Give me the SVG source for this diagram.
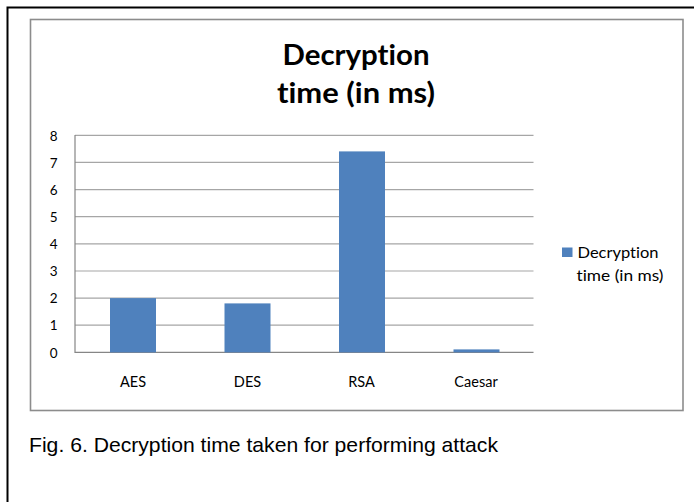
<svg xmlns="http://www.w3.org/2000/svg" width="694" height="502" viewBox="0 0 694 502">
<style>
text{font-variant-ligatures:none;font-feature-settings:"liga" 0,"clig" 0}
.title{font-family:Lato,"Liberation Sans",sans-serif;font-weight:bold;font-size:28px;fill:#000;text-anchor:middle}
.ylab{font-family:Lato,"Liberation Sans",sans-serif;font-size:13.5px;fill:#000;text-anchor:end}
.xlab{font-family:Lato,"Liberation Sans",sans-serif;font-size:14.5px;fill:#000;text-anchor:middle}
.leg{font-family:Lato,"Liberation Sans",sans-serif;font-size:15.5px;fill:#000}
.cap{font-family:"Liberation Sans",Arial,sans-serif;font-size:21px;fill:#000}
.grid{stroke:#a6a6a6;stroke-width:1.2;fill:none}
.bar{fill:#4F81BD}
</style>
<rect x="0" y="0" width="694" height="502" fill="#fff"/>
<path d="M7.5,502 V7.5 H694" fill="none" stroke="#000" stroke-width="2"/>
<g id="chart-frame">
<rect x="30.5" y="19.5" width="652.5" height="391" fill="#fff" stroke="#8c8c8c" stroke-width="1.6"/>
</g>
<g id="title">
<text class="title" x="356" y="65" textLength="147" lengthAdjust="spacingAndGlyphs">Decryption</text>
<text class="title" x="356" y="103" textLength="158" lengthAdjust="spacingAndGlyphs">time (in ms)</text>
</g>
<g id="gridlines">
<path class="grid" d="M75,135.3 H533.5 M75,162.4 H533.5 M75,189.6 H533.5 M75,216.7 H533.5 M75,243.8 H533.5 M75,271 H533.5 M75,298.1 H533.5 M75,325.2 H533.5"/>
<path d="M75,135 V352.4 H533.5" fill="none" stroke="#868686" stroke-width="1.2"/>
</g>
<g id="y-axis-labels">
<text class="ylab" x="57.5" y="140.5">8</text>
<text class="ylab" x="57.5" y="167.6">7</text>
<text class="ylab" x="57.5" y="194.8">6</text>
<text class="ylab" x="57.5" y="221.9">5</text>
<text class="ylab" x="57.5" y="249">4</text>
<text class="ylab" x="57.5" y="276.2">3</text>
<text class="ylab" x="57.5" y="303.3">2</text>
<text class="ylab" x="57.5" y="330.4">1</text>
<text class="ylab" x="57.5" y="357.6">0</text>
</g>
<g id="bar-AES"><rect class="bar" x="110" y="298.1" width="46" height="54.3"/></g>
<g id="bar-DES"><rect class="bar" x="224.5" y="303.4" width="46" height="49"/></g>
<g id="bar-RSA"><rect class="bar" x="339" y="151.4" width="46" height="201"/></g>
<g id="bar-Caesar"><rect class="bar" x="453.5" y="349.4" width="46" height="3"/></g>
<g id="x-axis-labels">
<text class="xlab" x="133" y="386.5">AES</text>
<text class="xlab" x="247.5" y="386.5">DES</text>
<text class="xlab" x="361.5" y="386.5">RSA</text>
<text class="xlab" x="476" y="386.5">Caesar</text>
</g>
<g id="legend">
<rect class="bar" x="562" y="247.5" width="10.5" height="9.5"/>
<text class="leg" x="577.5" y="258" textLength="81" lengthAdjust="spacingAndGlyphs">Decryption</text>
<text class="leg" x="576.5" y="280.5" textLength="87" lengthAdjust="spacingAndGlyphs">time (in ms)</text>
</g>
<g id="caption">
<text class="cap" x="29" y="452" textLength="469" lengthAdjust="spacingAndGlyphs">Fig. 6. Decryption time taken for performing attack</text>
</g>
</svg>
